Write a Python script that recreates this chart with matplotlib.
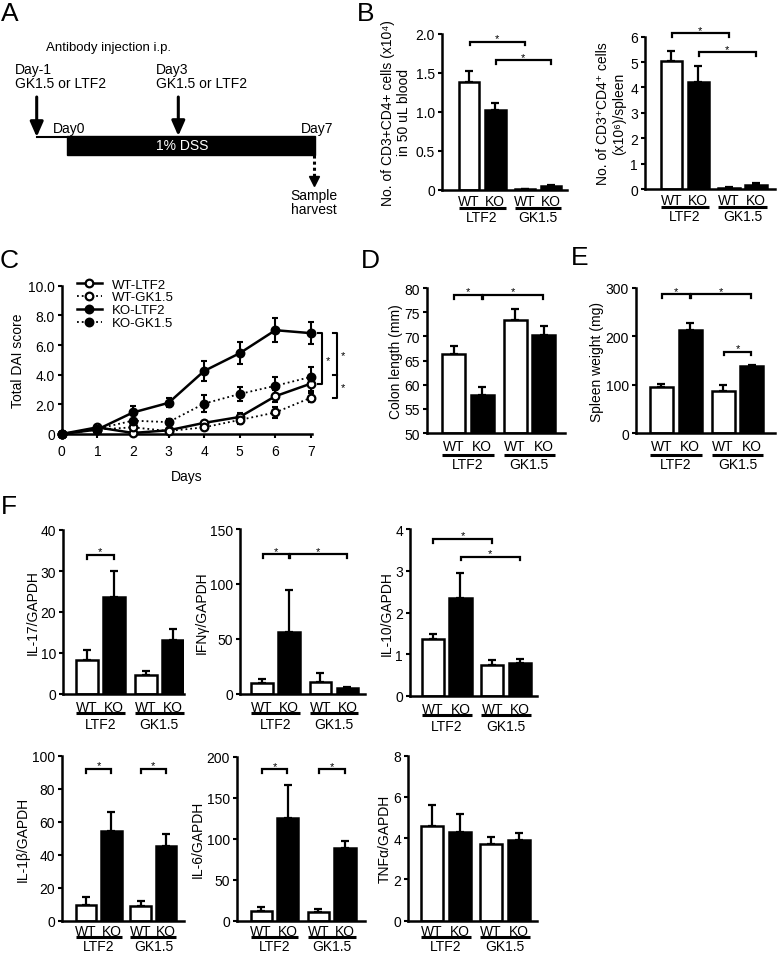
import numpy as np
import matplotlib
matplotlib.use('Agg')
import matplotlib.pyplot as plt
import matplotlib.transforms as mtransforms
from matplotlib.patches import Rectangle

plt.rcParams['font.family'] = ['Liberation Sans', 'DejaVu Sans']
plt.rcParams['font.size'] = 10

W, H = 778, 954

# ---------------- Data ----------------
genotypes = ['WT', 'KO', 'WT', 'KO']
treatments = ['LTF2', 'GK1.5']

# Panel B
blood_cd4 = [1.38, 1.02, 0.01, 0.044]
blood_cd4_err = [0.15, 0.10, 0.005, 0.01]
spleen_cd4 = [5.05, 4.20, 0.05, 0.16]
spleen_cd4_err = [0.40, 0.63, 0.02, 0.06]

# Panel C (DAI score)
days = [0, 1, 2, 3, 4, 5, 6, 7]
dai_wt_ltf2 = [0, 0.45, 0.07, 0.25, 0.75, 1.15, 2.55, 3.40]
dai_wt_ltf2_err = [0, 0.10, 0.05, 0.10, 0.15, 0.25, 0.40, 0.50]
dai_wt_gk = [0, 0.30, 0.45, 0.20, 0.45, 0.95, 1.45, 2.45]
dai_wt_gk_err = [0, 0.10, 0.10, 0.10, 0.15, 0.25, 0.35, 0.30]
dai_ko_ltf2 = [0, 0.30, 1.45, 2.10, 4.25, 5.45, 7.00, 6.80]
dai_ko_ltf2_err = [0, 0.10, 0.45, 0.30, 0.70, 0.75, 0.80, 0.75]
dai_ko_gk = [0, 0.35, 0.90, 0.80, 2.05, 2.70, 3.25, 3.85]
dai_ko_gk_err = [0, 0.10, 0.40, 0.20, 0.55, 0.45, 0.60, 0.70]
dai_labels = ['WT-LTF2', 'WT-GK1.5', 'KO-LTF2', 'KO-GK1.5']

# Panel D / E
colon_length = [66.3, 57.9, 73.3, 70.3]
colon_length_err = [1.6, 1.7, 2.4, 1.9]
spleen_weight = [94.5, 213, 86, 138]
spleen_weight_err = [7, 14, 13, 3]

# Panel F
il17 = [8.2, 23.7, 4.6, 13.2]
il17_err = [2.5, 6.3, 1.0, 2.7]
ifng = [9.7, 56, 11, 5.1]
ifng_err = [4.3, 39, 8, 1.6]
il10 = [1.36, 2.34, 0.75, 0.78]
il10_err = [0.13, 0.60, 0.12, 0.11]
il1b = [9.7, 54.3, 8.7, 45.5]
il1b_err = [4.9, 12, 3, 7]
il6 = [12.2, 125, 11, 88.4]
il6_err = [4, 41, 3.3, 9]
tnfa = [4.58, 4.32, 3.72, 3.93]
tnfa_err = [1.04, 0.87, 0.36, 0.30]

# ---------------- Figure ----------------
fig = plt.figure(figsize=(W / 100, H / 100), dpi=100)


def rect_px(left, top, right, bottom):
    return [left / W, 1 - bottom / H, (right - left) / W, (bottom - top) / H]


def letter(x, y, s):
    fig.text(x / W, 1 - y / H, s, fontsize=19, ha='center', va='center')


def style_axes(ax):
    for side in ['top', 'right']:
        ax.spines[side].set_visible(False)
    for side in ['left', 'bottom']:
        ax.spines[side].set_linewidth(1.8)
    ax.tick_params(axis='y', direction='out', length=3, width=1.5, labelsize=10, pad=2)


POS = np.array([0, 1, 2.15, 3.15])
BW = 0.8


def bar_panel(rect, vals, errs, ylim, yticks, yticklabels, ylabel, brackets,
              xlim=(-0.9, 3.85), offs=(12, 19, 28), labelpad=1):
    ax = fig.add_axes(rect_px(*rect))
    style_axes(ax)
    base = ylim[0]
    heights = np.array(vals) - base
    colors = ['white', 'black', 'white', 'black']
    ax.bar(POS, heights, BW, bottom=base, color=colors, edgecolor='black',
           linewidth=1.8, zorder=2)
    ax.errorbar(POS, vals, yerr=[np.zeros(4), errs], fmt='none', ecolor='black',
                elinewidth=1.6, capsize=3, capthick=1.6, zorder=1)
    ax.set_xlim(*xlim)
    ax.set_ylim(*ylim)
    ax.set_yticks(yticks)
    ax.set_yticklabels(yticklabels)
    ax.tick_params(axis='x', bottom=False, labelbottom=False)
    ax.set_ylabel(ylabel, fontsize=10, labelpad=labelpad)
    # brackets
    axh = (rect[3] - rect[1])
    h = (ylim[1] - ylim[0]) * 3.5 / axh
    for i, j, y in brackets:
        x1 = POS[i] + 0.02
        x2 = POS[j] - 0.02
        ax.plot([x1, x1, x2, x2], [y - h, y, y, y - h], color='black', lw=1.6,
                clip_on=False, solid_joinstyle='miter')
        ax.annotate('*', xy=((x1 + x2) / 2, y), xytext=(0, 0.5), textcoords='offset points',
                    ha='center', va='baseline', fontsize=8, annotation_clip=False)
    # group labels
    trans = ax.get_xaxis_transform()
    d_txt, d_line, d_grp = [o * 0.72 for o in offs]
    for k, g in enumerate(genotypes):
        off = mtransforms.ScaledTranslation(0, -d_txt / 72, fig.dpi_scale_trans)
        ax.text(POS[k], 0, g, transform=trans + off, ha='center', va='center', fontsize=10)
    for gi, t in enumerate(treatments):
        i, j = 2 * gi, 2 * gi + 1
        off = mtransforms.ScaledTranslation(0, -d_line / 72, fig.dpi_scale_trans)
        ax.plot([POS[i] - BW / 2, POS[j] + BW / 2], [0, 0], transform=trans + off,
                color='black', lw=2.2, clip_on=False, solid_capstyle='butt')
        off2 = mtransforms.ScaledTranslation(0, -d_grp / 72, fig.dpi_scale_trans)
        ax.text((POS[i] + POS[j]) / 2, 0, t, transform=trans + off2, ha='center',
                va='center', fontsize=10)
    return ax


# ---------------- Panel A (schematic) ----------------
axA = fig.add_axes(rect_px(0, 0, 345, 230))
axA.set_xlim(0, 345)
axA.set_ylim(230, 0)
axA.axis('off')
axA.text(46, 48, 'Antibody injection i.p.', fontsize=9.5, va='center', ha='left')
axA.text(15, 70, 'Day-1', fontsize=10, va='center', ha='left')
axA.text(15, 84, 'GK1.5 or LTF2', fontsize=10, va='center', ha='left')
axA.text(156, 70, 'Day3', fontsize=10, va='center', ha='left')
axA.text(156, 84, 'GK1.5 or LTF2', fontsize=10, va='center', ha='left')
for xa, yb in [(36.7, 138), (178.3, 137)]:
    axA.annotate('', xy=(xa, yb), xytext=(xa, 98),
                 arrowprops=dict(arrowstyle='-|>,head_length=0.5,head_width=0.22',
                                 lw=2.2, color='black', mutation_scale=18,
                                 shrinkA=0, shrinkB=0))
axA.plot([36.7, 67], [138.3, 138.3], color='black', lw=1.5)
axA.add_patch(Rectangle((66.7, 136.7), 248.3, 19, color='black'))
axA.text(181.7, 146.5, '1% DSS', color='white', fontsize=10, ha='center', va='center')
axA.text(69, 129, 'Day0', fontsize=10, ha='center', va='center')
axA.text(317, 129, 'Day7', fontsize=10, ha='center', va='center')
axA.plot([314.3, 314.3], [156, 178], color='black', lw=2.2, linestyle=(0, (1, 1)))
axA.plot([314.3], [181.5], marker='v', ms=7.5, color='black')
axA.text(314.3, 196, 'Sample', fontsize=10, ha='center', va='center')
axA.text(314.3, 210.5, 'harvest', fontsize=10, ha='center', va='center')

# ---------------- Panel letters ----------------
letter(10, 14, 'A')
letter(366, 14, 'B')
letter(9, 261, 'C')
letter(370, 261, 'D')
letter(580, 258, 'E')
letter(9, 507, 'F')

# ---------------- Panel B ----------------
bar_panel((441.7, 35, 566.7, 190.7), blood_cd4, blood_cd4_err, (0, 2.0),
          [0, 0.5, 1.0, 1.5, 2.0], ['0', '0.5', '1.0', '1.5', '2.0'],
          'No. of CD3+CD4+ cells (x10\u2074)\nin 50 uL blood',
          [(0, 2, 1.90), (1, 3, 1.66)], xlim=(-1.05, 3.75), offs=(11, 18, 27), labelpad=3)
bar_panel((645, 37.7, 775, 190), spleen_cd4, spleen_cd4_err, (0, 6),
          [0, 1, 2, 3, 4, 5, 6], ['0', '1', '2', '3', '4', '5', '6'],
          'No. of CD3\u207aCD4\u207a cells\n(x10\u2076)/spleen',
          [(0, 2, 6.13), (1, 3, 5.38)], xlim=(-0.98, 3.85), offs=(11, 18, 27), labelpad=3)

# ---------------- Panel C ----------------
axC = fig.add_axes(rect_px(61.7, 286.7, 311.7, 435))
style_axes(axC)
axC.tick_params(axis='x', direction='out', length=3, width=1.5, labelsize=10, pad=4)
series = [
    (dai_wt_ltf2, dai_wt_ltf2_err, '-', 'white', 1.8),
    (dai_wt_gk, dai_wt_gk_err, ':', 'white', 1.3),
    (dai_ko_ltf2, dai_ko_ltf2_err, '-', 'black', 1.8),
    (dai_ko_gk, dai_ko_gk_err, ':', 'black', 1.3),
]
handles = []
for (vals, errs, ls, mfc, lw), lab in zip(series, dai_labels):
    axC.errorbar(days, vals, yerr=errs, fmt='none', ecolor='black', elinewidth=1.5,
                 capsize=2.5, capthick=1.5, clip_on=False, zorder=2)
    ln, = axC.plot(days, vals, linestyle=ls, color='black', lw=lw, marker='o', ms=5.5,
                   mfc=mfc, mec='black', mew=1.6, clip_on=False, zorder=3, label=lab)
    handles.append(ln)
axC.set_xlim(0, 7.02)
axC.set_ylim(0, 10)
axC.set_xticks(days)
axC.set_yticks([0, 2, 4, 6, 8, 10])
axC.set_yticklabels(['0', '2.0', '4.0', '6.0', '8.0', '10.0'])
axC.set_ylabel('Total DAI score', fontsize=10, labelpad=2)
axC.set_xlabel('Days', fontsize=10, labelpad=8)
axC.legend(handles=handles, loc='upper left', bbox_to_anchor=(0.06, 1.05), frameon=False,
           fontsize=9.5, handlelength=1.9, handletextpad=0.8, labelspacing=0.05,
           borderpad=0, borderaxespad=0, numpoints=1)
# significance brackets (vertical)
hx = 0.09
for xb, ytop, ybot in [(7.30, dai_ko_ltf2[-1], dai_wt_ltf2[-1]), (7.72, dai_ko_ltf2[-1], dai_wt_gk[-1])]:
    axC.plot([xb - hx, xb, xb, xb - hx], [ytop, ytop, ybot, ybot], color='black', lw=1.5,
             clip_on=False)
axC.plot([7.72 - hx, 7.72], [dai_ko_gk[-1] + 0.1, dai_ko_gk[-1] + 0.1], color='black', lw=1.5,
         clip_on=False)
for xs, ys in [(7.47, 5.0), (7.89, 5.35), (7.89, 3.15)]:
    axC.text(xs, ys, '*', fontsize=8, ha='center', va='center', clip_on=False)

# ---------------- Panel D ----------------
bar_panel((426.7, 289, 565, 434), colon_length, colon_length_err, (50, 80),
          [50, 55, 60, 65, 70, 75, 80], ['50', '55', '60', '65', '70', '75', '80'],
          'Colon length (mm)', [(0, 1, 78.5), (1, 3, 78.5)], xlim=(-0.95, 3.9),
          offs=(13, 22, 31))

# ---------------- Panel E ----------------
bar_panel((636, 289, 775, 434), spleen_weight, spleen_weight_err, (0, 300),
          [0, 100, 200, 300], ['0', '100', '200', '300'],
          'Spleen weight (mg)', [(0, 1, 287), (1, 3, 287), (2, 3, 168)], xlim=(-0.88, 3.95),
          offs=(13, 22, 31))

# ---------------- Panel F ----------------
r1 = (13, 19, 30)
r2 = (10, 16, 25)
bar_panel((63.3, 531, 184, 695), il17, il17_err, (0, 40), [0, 10, 20, 30, 40],
          ['0', '10', '20', '30', '40'], 'IL-17/GAPDH', [(0, 1, 33.9)],
          xlim=(-0.85, 3.55), offs=r1)
bar_panel((240, 530, 365, 695), ifng, ifng_err, (0, 150), [0, 50, 100, 150],
          ['0', '50', '100', '150'], 'IFN\u03b3/GAPDH', [(0, 1, 127), (1, 3, 127)],
          xlim=(-0.82, 3.8), offs=r1)
bar_panel((410, 530, 536.7, 697), il10, il10_err, (0, 4), [0, 1, 2, 3, 4],
          ['0', '1', '2', '3', '4'], 'IL-10/GAPDH', [(0, 2, 3.76), (1, 3, 3.33)],
          xlim=(-0.82, 3.75), offs=r1)
bar_panel((61.7, 757, 184, 921.7), il1b, il1b_err, (0, 100), [0, 20, 40, 60, 80, 100],
          ['0', '20', '40', '60', '80', '100'], 'IL-1\u03b2/GAPDH', [(0, 1, 92), (2, 3, 92)],
          xlim=(-0.95, 3.85), offs=r2)
bar_panel((236.7, 758, 365, 921.7), il6, il6_err, (0, 200), [0, 50, 100, 150, 200],
          ['0', '50', '100', '150', '200'], 'IL-6/GAPDH', [(0, 1, 185), (2, 3, 185)],
          xlim=(-0.92, 3.9), offs=r2)
bar_panel((408, 756.7, 536.7, 921.7), tnfa, tnfa_err, (0, 8), [0, 2, 4, 6, 8],
          ['0', '2', '4', '6', '8'], 'TNF\u03b1/GAPDH', [],
          xlim=(-0.87, 3.8), offs=r2)

fig.savefig('out.png', dpi=100)
